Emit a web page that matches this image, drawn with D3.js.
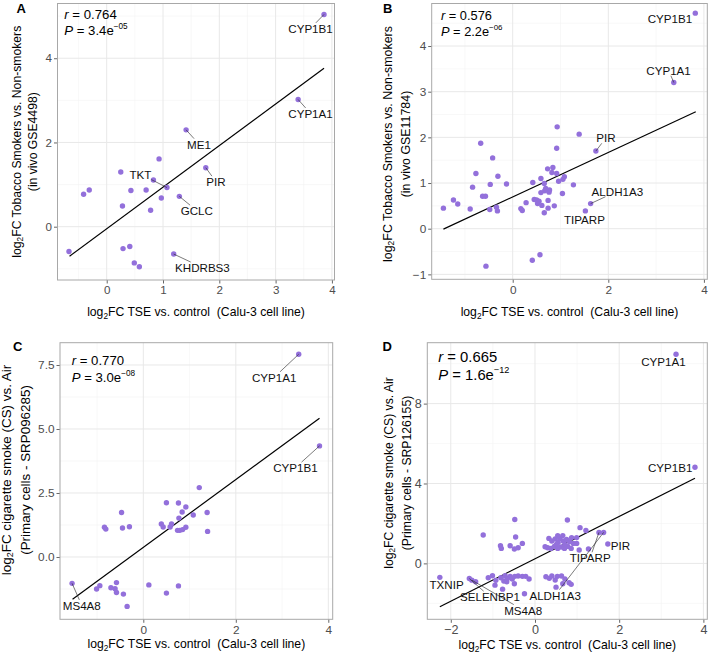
<!DOCTYPE html>
<html><head><meta charset="utf-8">
<script src="https://cdn.jsdelivr.net/npm/d3@7"></script>
<style>
body{margin:0;background:#fff}
svg{display:block}
text{font-family:"Liberation Sans",Arial,Helvetica,sans-serif;white-space:pre}
</style>
</head><body>
<svg id="c" width="709" height="655"></svg>
<script>
// ---------------- DATA ----------------
// Panel A (GSE4498)
const xA = [3.86,3.40,1.41,1.76,0.93,0.25,0.83,1.07,-0.31,-0.41,0.43,0.70,0.97,1.29,0.28,0.78,-0.67,0.29,0.41,1.19,0.49,0.58];
const yA = [5.04,3.02,2.30,1.40,1.61,1.30,1.11,0.93,0.87,0.77,0.86,0.87,0.68,0.72,0.49,0.39,-0.59,-0.52,-0.47,-0.65,-0.86,-0.95];
const labA = [["CYP1B1",0,3.62,4.71],["CYP1A1",1,3.62,2.69],["ME1",2,1.64,1.96],["PIR",3,1.94,1.07],["TKT",7,0.60,1.25],["GCLC",13,1.60,0.38],["KHDRBS3",19,1.70,-0.97]];
const fitA = [-0.66,-0.70,3.86,3.76];
const statA = ["0.764","3.4","\u221205"];

// Panel B (GSE11784)
const xB = [3.82,3.37,0.93,1.39,-0.67,0.92,1.74,-0.42,0.73,0.84,-0.77,0.82,0.92,1.08,1.05,0.96,-0.31,0.59,0.42,-0.13,-0.47,0.66,1.27,-0.84,0.69,0.77,0.67,0.59,0.76,1.04,-0.63,-0.57,-1.24,-1.15,-1.45,-0.89,-0.48,-0.34,-0.32,0.28,0.45,0.50,0.55,0.52,0.61,0.74,0.74,0.87,0.66,0.17,0.20,1.63,1.52,0.57,0.41,-0.56];
const yB = [4.72,3.20,2.23,2.07,1.87,1.76,1.70,1.55,1.31,1.34,1.21,1.23,1.21,1.14,1.08,1.04,1.15,1.10,1.01,0.98,0.97,0.99,0.96,0.91,0.88,0.85,0.83,0.79,0.80,0.77,0.71,0.71,0.63,0.54,0.45,0.43,0.42,0.47,0.39,0.57,0.64,0.63,0.60,0.55,0.51,0.62,0.45,0.50,0.35,0.44,0.40,0.55,0.39,-0.57,-0.69,-0.82];
const labB = [["CYP1B1",0,3.29,4.61],["CYP1A1",1,3.26,3.47],["PIR",6,1.95,1.99],["ALDH1A3",51,2.19,0.82],["TIPARP",52,1.50,0.21]];
const fitB = [-1.45,-0.01,3.83,2.56];
const statB = ["0.576","2.2","\u221206"];

// Panel C (SRP096285)
const xC = [3.36,3.81,1.21,0.50,0.76,0.92,-0.47,0.84,1.38,1.08,0.77,0.39,0.43,0.61,0.58,0.92,0.74,0.79,0.85,-0.84,-0.81,-0.45,-0.30,1.39,-1.54,-0.58,-0.94,-1.01,-0.70,-0.61,-0.58,-0.43,-0.35,0.12,0.50,0.76];
const yC = [7.92,4.34,2.71,2.12,2.11,1.95,1.74,1.76,1.74,1.64,1.52,1.29,1.17,1.29,1.17,1.16,1.04,1.04,1.07,1.16,1.09,1.13,1.18,1.00,-1.03,-1.00,-1.12,-1.25,-1.20,-1.24,-1.39,-1.45,-1.93,-1.09,-1.41,-1.13];
const labC = [["CYP1A1",0,2.83,7.02],["CYP1B1",1,3.29,3.49],["MS4A8",24,-1.33,-1.89]];
const fitC = [-1.53,-1.65,3.81,5.42];
const statC = ["0.770","3.0","\u221208"];

// Panel D (SRP126155)
const xD = [3.35,3.80,1.73,1.52,1.63,-2.26,-1.56,-1.50,-1.41,
 -1.11,-1.01,-0.93,-0.95,-0.81,-0.71,-0.74,-0.65,-0.59,-0.54,-0.48,-0.40,-0.30,-0.22,-0.14,-0.67,-0.77,-0.25,-0.49,0.26,0.34,0.40,0.48,0.53,0.63,0.71,0.66,0.81,0.86,0.50,
 -0.48,-0.46,-1.23,-0.82,-0.80,-0.59,-0.49,-0.40,-0.30,0.77,1.07,1.21,0.99,1.05,1.27,0.33,0.40,0.48,0.55,0.59,0.67,0.75,0.82,0.87,0.91,0.30,0.38,0.46,0.54,0.62,0.70,0.78,0.86,0.51,0.71,0.99,0.24,0.66,0.54];
const yD = [10.47,4.81,0.97,1.55,1.55,-0.70,-0.76,-0.84,-0.92,
 -0.72,-0.62,-0.85,-1.09,-0.72,-0.62,-0.88,-0.75,-0.65,-0.78,-0.65,-0.63,-0.65,-0.65,-0.78,-0.92,-1.29,-1.52,-1.02,-0.67,-0.75,-0.63,-0.83,-0.65,-0.63,-0.78,-1.02,-0.97,-1.05,-1.19,
 2.20,1.32,1.42,0.88,0.75,0.88,0.72,0.78,1.00,2.17,1.79,1.65,1.29,0.67,0.72,1.25,1.12,1.22,1.05,1.25,1.12,1.20,1.09,1.29,1.00,0.78,0.75,0.85,0.75,0.82,0.75,0.85,0.75,0.95,0.95,1.00,0.83,1.39,1.39];
const labD = [["CYP1A1",0,3.05,10.10],["CYP1B1",1,3.21,4.81],["PIR",2,2.03,0.92],["TIPARP",3,1.31,0.28],["ALDH1A3",4,0.48,-1.59],["TXNIP",5,-2.10,-1.05],["SELENBP1",6,-1.07,-1.67],["MS4A8",7,-0.28,-2.34]];
const fitD = [-2.26,-2.17,3.80,4.26];
const statD = ["0.665","1.6","\u221212"];

// tick values
const ticksA = {x:[0,1,2,3,4], xm:[-0.5,0.5,1.5,2.5,3.5], y:[0,2,4], ym:[-1,1,3,5]};
const ticksB = {x:[0,2,4], xm:[-1,1,3], y:[-1,0,1,2,3,4], ym:[-0.5,0.5,1.5,2.5,3.5,4.5]};
const ticksC = {x:[0,2,4], xm:[-1,1,3], y:[0,2.5,5,7.5], ym:[-1.25,1.25,3.75,6.25]};
const ticksD = {x:[-2,0,2,4], xm:[-1,1,3], y:[0,4,8], ym:[-2,2,6,10]};

const xTitle = "TSE vs. control  (Calu-3 cell line)";
const yTitles = {
  A:["Tobacco Smokers vs. Non-smokers","(in vivo GSE4498)"],
  B:["Tobacco Smokers vs. Non-smokers","(in vivo GSE11784)"],
  C:["cigarette smoke (CS) vs. Air","(Primary cells - SRP096285)"],
  D:["cigarette smoke (CS) vs. Air","(Primary cells - SRP126155)"]
};

// ---------------- LAYOUT ----------------
const panels = [
 {id:"A", xs:xA, ys:yA, lab:labA, fit:fitA, st:statA, t:ticksA, left:57.5, right:334.5, top:3.5, bottom:280,
  xd:[-0.874,4.046], yd:[-1.266,5.30], yfmt:d3.format("d"), letter:[16.5,12.5], stat:[64.3,19.3,35], sfs:13.2,
  ytx:[16.5,33], ytc:141.7, ytfs:12.2, xty:316, tfs:11.6},
 {id:"B", xs:xB, ys:yB, lab:labB, fit:fitB, st:statB, t:ticksB, left:431.7, right:707.3, top:3.5, bottom:279.3,
  xd:[-1.695,4.071], yd:[-1.108,4.931], yfmt:d3.format("d"), letter:[383,12.5], stat:[441,20,35.5], sfs:12.8,
  ytx:[387.5,405.8], ytc:144, ytfs:12.4, xty:316, tfs:11.8},
 {id:"C", xs:xC, ys:yC, lab:labC, fit:fitC, st:statC, t:ticksC, left:60, right:332.7, top:342.7, bottom:619.3,
  xd:[-1.801,4.095], yd:[-2.434,8.371], yfmt:d3.format(".1f"), letter:[13,350.5], stat:[71.7,365,382], sfs:13.2,
  ytx:[6,25], ytc:470, ytfs:13.4, xty:647.5, tfs:11.8},
 {id:"D", xs:xD, ys:yD, lab:labD, fit:fitD, st:statD, t:ticksD, left:427.3, right:707.3, top:342.7, bottom:619.3,
  xd:[-2.558,4.093], yd:[-2.80,11.05], yfmt:d3.format("d"), letter:[382.5,350.5], stat:[438.3,361.7,379.5], sfs:14.8,
  ytx:[388.8,406.7], ytc:473, ytfs:12.2, xty:649, tfs:12.6}
];

const svg = d3.select("#c");
const PURPLE = "#9370DB";

function addLog2(sel, rest, fs) {
  sel.append("tspan").text("log");
  sel.append("tspan").attr("font-size", fs*0.68).attr("dy", fs*0.28).text("2");
  sel.append("tspan").attr("dy", -fs*0.28).text("FC " + rest);
}

panels.forEach(p => {
  const x = d3.scaleLinear().domain(p.xd).range([p.left, p.right]);
  const y = d3.scaleLinear().domain(p.yd).range([p.bottom, p.top]);
  const g = svg.append("g");

  // minor grid
  g.selectAll(null).data(p.t.xm).join("line")
    .attr("x1", d=>x(d)).attr("x2", d=>x(d)).attr("y1", p.top).attr("y2", p.bottom)
    .attr("stroke", "#f3f3f3").attr("stroke-width", 0.6);
  g.selectAll(null).data(p.t.ym).join("line")
    .attr("y1", d=>y(d)).attr("y2", d=>y(d)).attr("x1", p.left).attr("x2", p.right)
    .attr("stroke", "#f3f3f3").attr("stroke-width", 0.6);
  // major grid
  g.selectAll(null).data(p.t.x).join("line")
    .attr("x1", d=>x(d)).attr("x2", d=>x(d)).attr("y1", p.top).attr("y2", p.bottom)
    .attr("stroke", "#e8e8e8").attr("stroke-width", 1);
  g.selectAll(null).data(p.t.y).join("line")
    .attr("y1", d=>y(d)).attr("y2", d=>y(d)).attr("x1", p.left).attr("x2", p.right)
    .attr("stroke", "#e8e8e8").attr("stroke-width", 1);

  // axes
  const ax = g.append("g").attr("transform", `translate(0,${p.bottom})`)
    .call(d3.axisBottom(x).tickValues(p.t.x).tickFormat(d=>d3.format("d")(d).replace("-","\u2212")).tickSize(3.5).tickPadding(2.5));
  const ay = g.append("g").attr("transform", `translate(${p.left},0)`)
    .call(d3.axisLeft(y).tickValues(p.t.y).tickFormat(d=>p.yfmt(d).replace("-","\u2212")).tickSize(3.5).tickPadding(2));
  [ax, ay].forEach(a => {
    a.select(".domain").remove();
    a.selectAll(".tick line").attr("stroke", "#555").attr("stroke-width", 0.9);
    a.selectAll(".tick text").attr("fill", "#4d4d4d").attr("font-size", p.tfs)
      .attr("font-family", '"Liberation Sans",Arial,Helvetica,sans-serif');
  });

  // border
  g.append("rect").attr("x", p.left).attr("y", p.top).attr("width", p.right-p.left).attr("height", p.bottom-p.top)
    .attr("fill", "none").attr("stroke", "#a8a8a8").attr("stroke-width", 1);

  // fit line
  g.append("line").attr("x1", x(p.fit[0])).attr("y1", y(p.fit[1])).attr("x2", x(p.fit[2])).attr("y2", y(p.fit[3]))
    .attr("stroke", "#000").attr("stroke-width", 1.2);

  // points
  const pts = p.xs.map((v,i)=>[v, p.ys[i]]);
  g.selectAll(null).data(pts).join("circle")
    .attr("cx", d=>x(d[0])).attr("cy", d=>y(d[1])).attr("r", 2.7).attr("fill", PURPLE);

  // labels + leaders
  p.lab.forEach(l => {
    const px = x(p.xs[l[1]]), py = y(p.ys[l[1]]);
    const cx = x(l[2]), cy = y(l[3]);
    const t = g.append("text").attr("x", cx).attr("y", cy).attr("text-anchor", "middle")
      .attr("dominant-baseline", "central").attr("font-size", 11.6).attr("fill", "#111").text(l[0]);
    const b = t.node().getBBox();
    const pad = 1.5;
    const x0 = b.x - pad, x1 = b.x + b.width + pad, y0 = b.y + 1, y1 = b.y + b.height - 1;
    if (px >= x0 && px <= x1 && py >= y0 && py <= y1) return;
    const dx = cx - px, dy = cy - py;
    let tx = -Infinity, ty = -Infinity;
    if (Math.abs(dx) > 1e-9) tx = Math.min((x0-px)/dx, (x1-px)/dx);
    if (Math.abs(dy) > 1e-9) ty = Math.min((y0-py)/dy, (y1-py)/dy);
    const te = Math.max(tx, ty);
    const ex = px + dx*te, ey = py + dy*te;
    if (Math.hypot(ex-px, ey-py) < 5) return;
    g.append("line").attr("x1", px).attr("y1", py).attr("x2", ex).attr("y2", ey)
      .attr("stroke", "#222").attr("stroke-width", 0.6);
  });

  // stats text
  const s1 = g.append("text").attr("x", p.stat[0]).attr("y", p.stat[1]).attr("font-size", p.sfs).attr("fill", "#000");
  s1.append("tspan").attr("font-style", "italic").text("r");
  s1.append("tspan").text(" = " + p.st[0]);
  const s2 = g.append("text").attr("x", p.stat[0]).attr("y", p.stat[2]).attr("font-size", p.sfs).attr("fill", "#000");
  s2.append("tspan").attr("font-style", "italic").text("P");
  s2.append("tspan").text(" = " + p.st[1] + "e");
  s2.append("tspan").attr("font-size", p.sfs*0.62).attr("dy", -p.sfs*0.42).text(p.st[2]);

  // panel letter
  g.append("text").attr("x", p.letter[0]).attr("y", p.letter[1]).attr("font-size", 13).attr("font-weight", "bold").text(p.id);

  // x title
  const xt = g.append("text").attr("x", (p.left+p.right)/2).attr("y", p.xty).attr("text-anchor", "middle")
    .attr("font-size", 12.2).attr("fill", "#000");
  addLog2(xt, xTitle, 12.2);

  // y title
  const yt1 = g.append("text").attr("transform", `translate(${p.ytx[0]},${p.ytc}) rotate(-90)`)
    .attr("text-anchor", "middle").attr("dominant-baseline", "central").attr("font-size", p.ytfs);
  addLog2(yt1, yTitles[p.id][0], p.ytfs);
  g.append("text").attr("transform", `translate(${p.ytx[1]},${p.ytc}) rotate(-90)`)
    .attr("text-anchor", "middle").attr("dominant-baseline", "central").attr("font-size", p.ytfs)
    .text(yTitles[p.id][1]);
});
</script>
</body></html>
